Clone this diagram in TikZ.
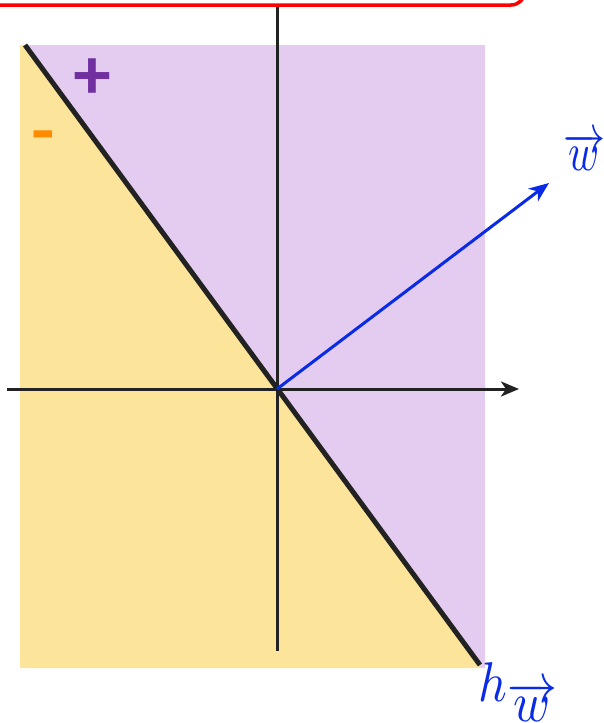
\documentclass[tikz,border=0pt]{standalone}
\usepackage{fontspec}
\newfontfamily\signfont{Fira Sans}
\usetikzlibrary{arrows.meta}
\definecolor{plusfill}{HTML}{E3CCF0}
\definecolor{minusfill}{HTML}{FDE49B}
\definecolor{plusc}{HTML}{7030A0}
\definecolor{minusc}{HTML}{FF8C00}
\definecolor{vecblue}{HTML}{0A2BE6}
\definecolor{axisc}{HTML}{222222}
\tikzset{
  axis/.style={draw=axisc, line width=3pt},
  hyper/.style={draw=axisc, line width=5pt},
  vec/.style={draw=vecblue, line width=3pt, -{Stealth[length=20pt,width=16pt,inset=6pt]}},
  lbl/.style={text=vecblue, inner sep=0pt},
  sign/.style={inner sep=0pt},
}
\begin{document}
\begin{tikzpicture}[x=1pt,y=-1pt]
\useasboundingbox (0,0) rectangle (604,723);
% named points
\coordinate (O) at (277,389);
\coordinate (HT) at (25,45);
\coordinate (HB) at (480,665);
% regions
\fill[minusfill] (20,45) -- (25,45) -- (481.5,668) -- (20,668) -- cycle;
\fill[plusfill] (25,45) -- (485,45) -- (485,668) -- (481.5,668) -- cycle;
% red box (cut off at top)
\draw[red, line width=3.5pt, rounded corners=14pt] (-30,-60) rectangle (525,5);
% axes
\draw[axis] (277,7) -- (277,651);
\coordinate (XL) at (7,389);
\coordinate (XR) at (519,389);
\draw[axis, -{Stealth[length=18pt,width=15pt,inset=5pt]}] (XL) -- (XR);
% hyperplane
\draw[hyper] (HT) -- (HB);
% vector
\coordinate (W) at (549,183);
\draw[vec] (O) -- (W);
% labels
\node[lbl] (wlab) at (584,152) {\scalebox{4.2}[5.4]{$\overrightarrow{w}$}};
\node[lbl] (hlab) at (519,692) {\scalebox{5}[5.6]{$h_{\overrightarrow{w}}$}};
\node[sign, text=plusc, font=\signfont\fontsize{92}{92}\selectfont] (plus) at (92,83) {+};
\node[sign, text=minusc, font=\signfont\bfseries\fontsize{58}{58}\selectfont] (minus) at (43,142) {-};
\end{tikzpicture}
\end{document}
